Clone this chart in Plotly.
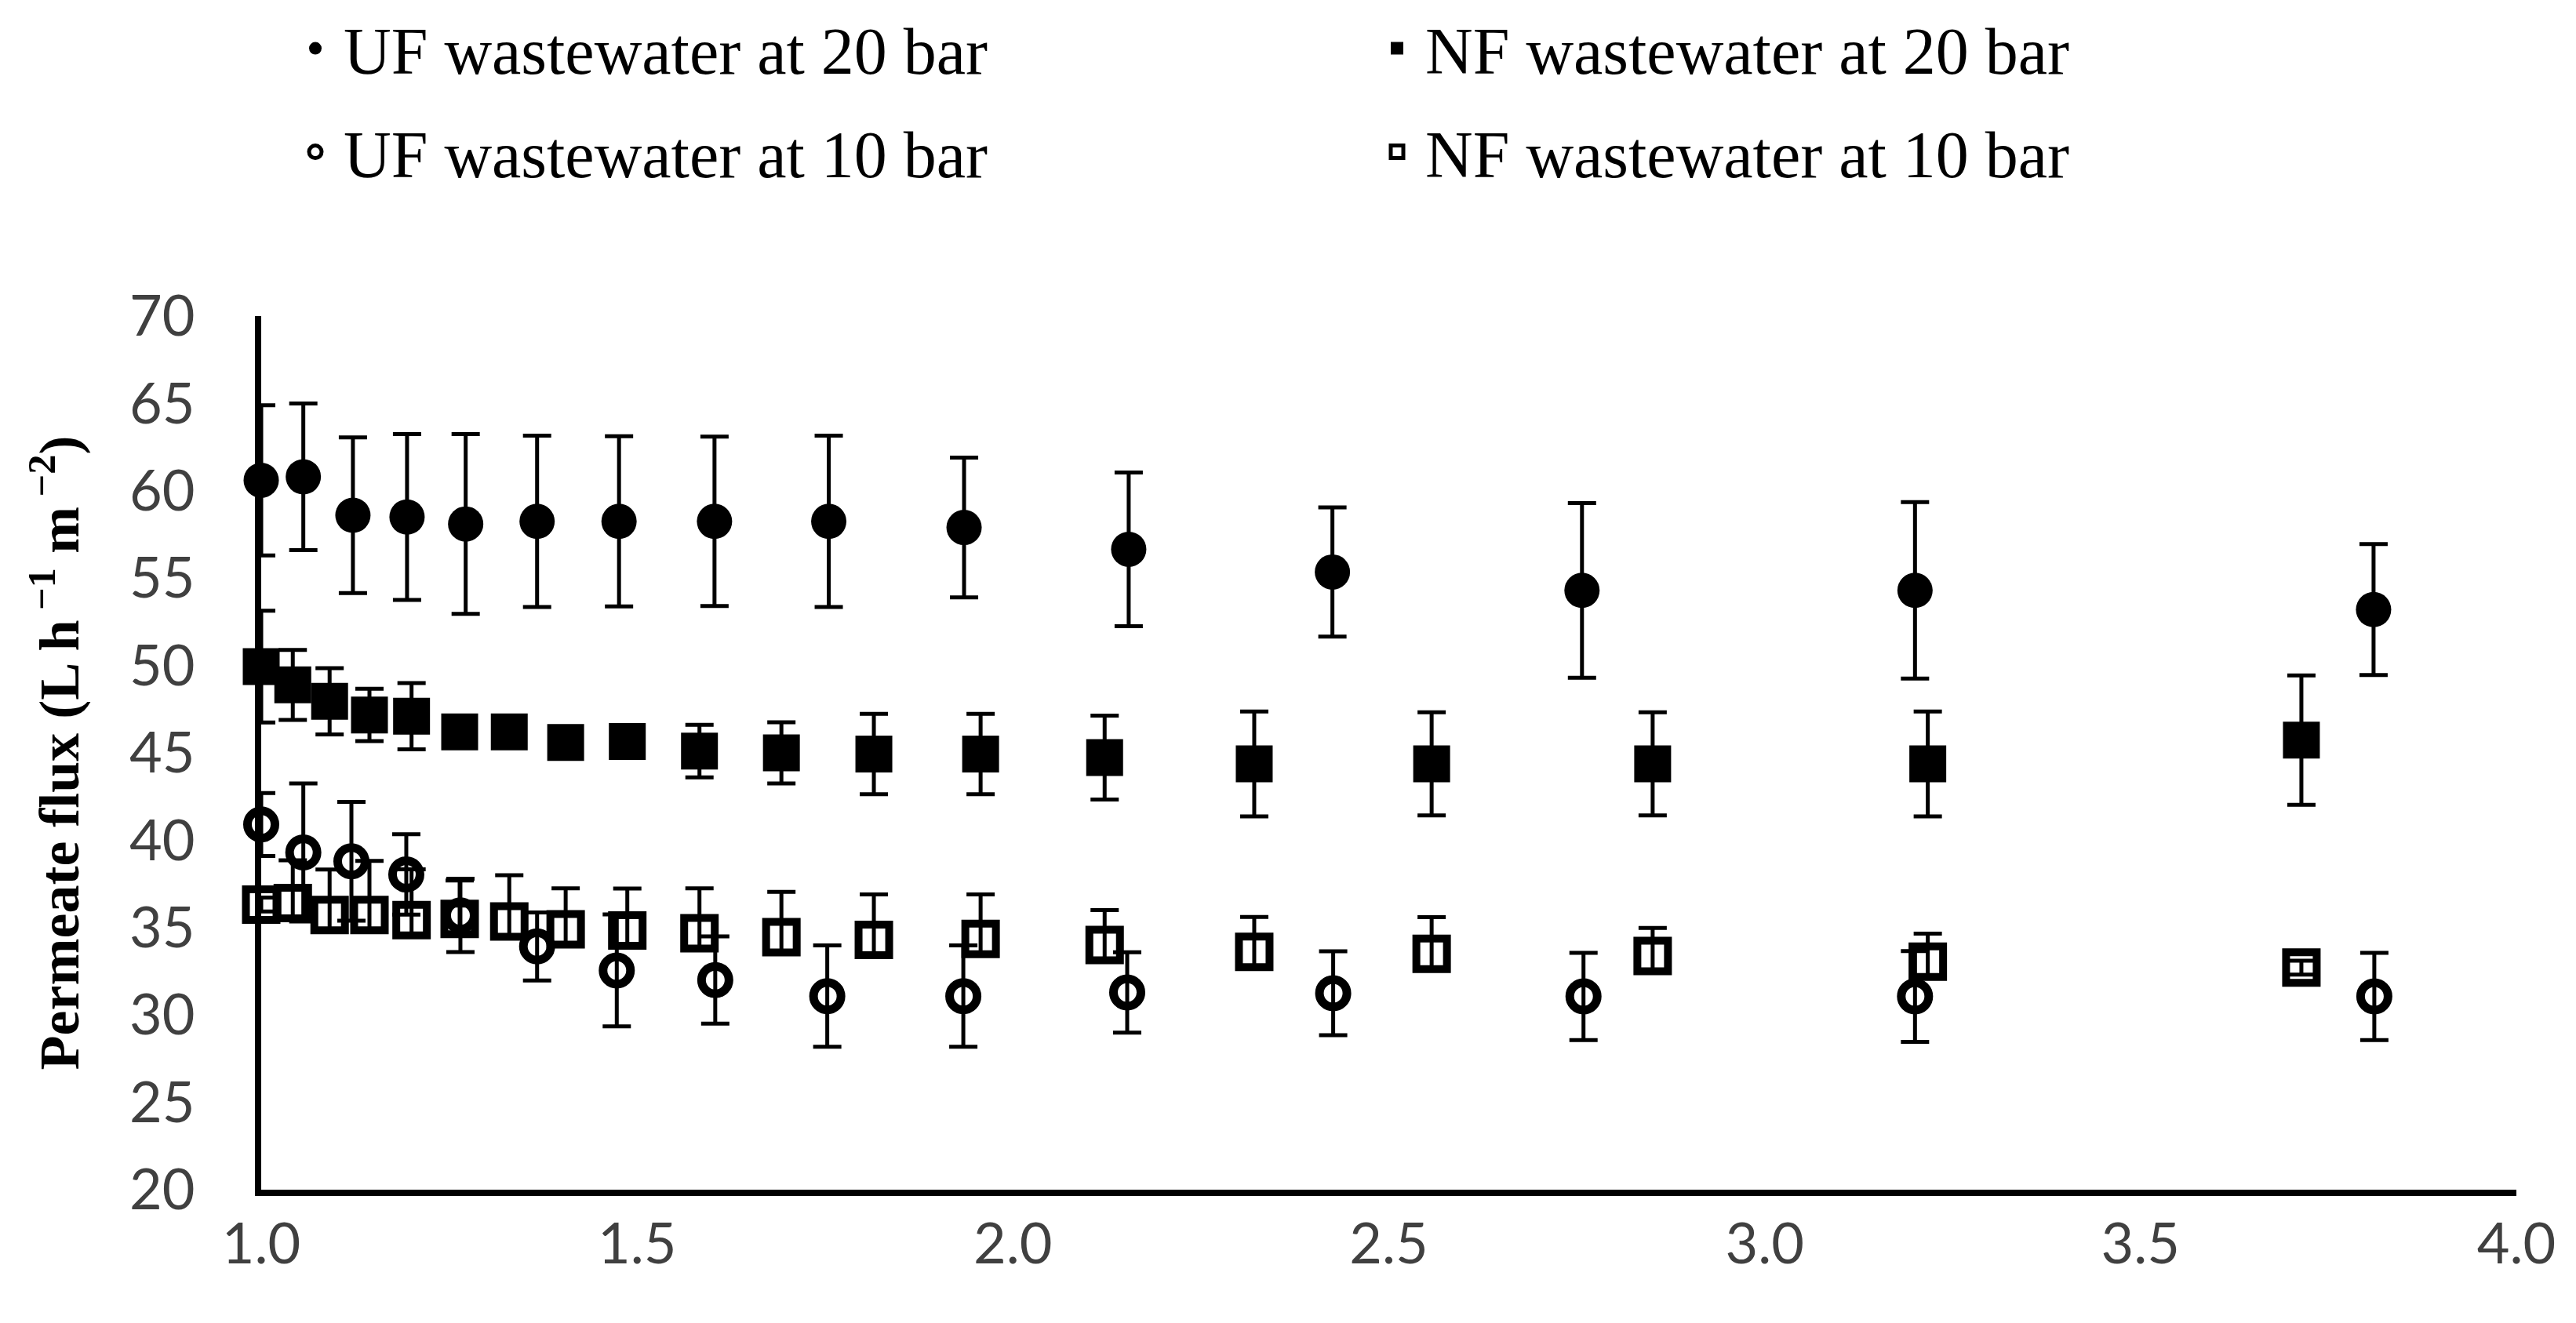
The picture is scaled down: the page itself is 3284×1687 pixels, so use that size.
import plotly.graph_objects as go

# ---------------- data ----------------
# UF wastewater at 20 bar
x_uf20 = [1.0, 1.056, 1.122, 1.194, 1.272, 1.367, 1.476, 1.603, 1.755, 1.935, 2.154, 2.425, 2.757, 3.200, 3.810]
y_uf20 = [60.6, 60.8, 58.6, 58.5, 58.1, 58.25, 58.25, 58.25, 58.25, 57.9, 56.65, 55.35, 54.3, 54.3, 53.2]
e_uf20 = [4.3, 4.2, 4.45, 4.75, 5.15, 4.9, 4.87, 4.85, 4.9, 4.0, 4.4, 3.7, 5.0, 5.05, 3.75]

# NF wastewater at 20 bar
x_nf20 = [1.0, 1.042, 1.091, 1.144, 1.200, 1.264, 1.330, 1.405, 1.487, 1.583, 1.692, 1.815, 1.957, 2.122, 2.321, 2.557, 2.851, 3.217, 3.714]
y_nf20 = [49.94, 48.89, 47.95, 47.17, 47.1, 46.2, 46.2, 45.6, 45.65, 45.1, 45.0, 44.93, 44.93, 44.73, 44.37, 44.37, 44.37, 44.37, 45.73]
e_nf20 = [3.2, 2.0, 1.9, 1.5, 1.9, 0.5, 0.5, 0.5, 0.5, 1.5, 1.75, 2.3, 2.3, 2.4, 3.0, 2.95, 2.95, 3.0, 3.7]

# UF wastewater at 10 bar
x_uf10 = [1.0, 1.056, 1.120, 1.193, 1.265, 1.367, 1.473, 1.604, 1.753, 1.934, 2.152, 2.426, 2.759, 3.200, 3.811]
y_uf10 = [40.9, 39.3, 38.8, 38.04, 35.7, 33.92, 32.55, 32.0, 31.08, 31.08, 31.29, 31.24, 31.06, 31.06, 31.06]
e_uf10 = [1.8, 3.95, 3.4, 2.3, 2.1, 1.95, 3.2, 2.5, 2.9, 2.9, 2.3, 2.4, 2.5, 2.6, 2.5]

# NF wastewater at 10 bar (upper error only is visible; lower part stays inside the marker)
x_nf10 = [1.0, 1.042, 1.091, 1.144, 1.200, 1.264, 1.330, 1.405, 1.487, 1.583, 1.692, 1.815, 1.957, 2.122, 2.321, 2.557, 2.851, 3.217, 3.714]
y_nf10 = [36.32, 36.4, 35.72, 35.72, 35.43, 35.5, 35.35, 34.9, 34.83, 34.68, 34.45, 34.3, 34.35, 34.0, 33.61, 33.5, 33.38, 33.05, 32.71]
e_nf10_plus = [0.4, 2.45, 2.6, 3.1, 2.9, 2.2, 2.65, 2.35, 2.4, 2.57, 2.6, 2.6, 2.55, 2.0, 2.0, 2.1, 1.6, 1.6, 0.4]
e_nf10_minus = [0.4, 0.9, 0.9, 0.9, 0.9, 0.9, 0.9, 0.9, 0.9, 0.9, 0.9, 0.9, 0.9, 0.9, 0.9, 0.9, 0.9, 0.9, 0.4]

series_names = ["UF wastewater at 20 bar", "NF wastewater at 20 bar",
                "UF wastewater at 10 bar", "NF wastewater at 10 bar"]

y_ticks = [20, 25, 30, 35, 40, 45, 50, 55, 60, 65, 70]
x_ticks = [1.0, 1.5, 2.0, 2.5, 3.0, 3.5, 4.0]

# ---------------- figure ----------------
W, H = 3284, 1687
ML, MR, MT, MB = 325, 84, 395, 178
PW, PH = W - ML - MR, H - MT - MB

ERR_W = 18
ERR_T = 5

fig = go.Figure()

fig.add_trace(go.Scatter(
    x=x_uf20, y=y_uf20, mode="markers", name=series_names[0], legend="legend2",
    marker=dict(symbol="circle", size=45, color="black", line=dict(width=0)),
    error_y=dict(type="data", array=e_uf20, visible=True, color="black",
                 thickness=ERR_T, width=ERR_W),
    cliponaxis=False))

fig.add_trace(go.Scatter(
    x=x_nf20, y=y_nf20, mode="markers", name=series_names[1], legend="legend3",
    marker=dict(symbol="square", size=47, color="black", line=dict(width=0)),
    error_y=dict(type="data", array=e_nf20, visible=True, color="black",
                 thickness=ERR_T, width=ERR_W),
    cliponaxis=False))

fig.add_trace(go.Scatter(
    x=x_uf10, y=y_uf10, mode="markers", name=series_names[2], legend="legend4",
    marker=dict(symbol="circle-open", size=35, color="black", line=dict(width=11, color="black")),
    error_y=dict(type="data", array=e_uf10, visible=True, color="black",
                 thickness=ERR_T, width=ERR_W),
    cliponaxis=False))

fig.add_trace(go.Scatter(
    x=x_nf10, y=y_nf10, mode="markers", name=series_names[3], legend="legend5",
    marker=dict(symbol="square-open", size=39, color="black", line=dict(width=10, color="black")),
    error_y=dict(type="data", symmetric=False, array=e_nf10_plus, arrayminus=e_nf10_minus,
                 visible=True, color="black", thickness=ERR_T, width=ERR_W),
    cliponaxis=False))

tick_font = dict(family="Lato", size=72, color="#404040")

def px_x(X):
    return (X - ML) / PW

def px_y(Y):
    return (H - MB - Y) / PH

leg_common = dict(orientation="h", font=dict(family="Liberation Serif", size=84, color="black"),
                  itemwidth=62, bgcolor="rgba(0,0,0,0)", borderwidth=0,
                  xanchor="left", yanchor="middle")

fig.update_layout(
    width=W, height=H,
    margin=dict(l=ML, r=MR, t=MT, b=MB, pad=0, autoexpand=False),
    paper_bgcolor="white", plot_bgcolor="white",
    showlegend=True,
    legend2=dict(x=px_x(358), y=px_y(54), **leg_common),
    legend3=dict(x=px_x(1737), y=px_y(54), **leg_common),
    legend4=dict(x=px_x(358), y=px_y(186), **leg_common),
    legend5=dict(x=px_x(1737), y=px_y(186), **leg_common),
    xaxis=dict(range=[1.0, 4.0], tickmode="array", tickvals=x_ticks,
               ticktext=[f"{v:.1f}" for v in x_ticks],
               showgrid=False, zeroline=False, showline=True, linecolor="black",
               linewidth=8, ticks="", ticklabelstandoff=0, tickfont=tick_font),
    yaxis=dict(range=[20, 70], tickmode="array", tickvals=y_ticks,
               ticktext=[str(v) for v in y_ticks],
               showgrid=False, zeroline=False, showline=True, linecolor="black",
               linewidth=8, ticks="", ticklabelstandoff=62, tickfont=tick_font,
               title=dict(text="Permeate flux (L h<sup> \u22121</sup> m<sup> \u22122</sup>)",
                          font=dict(family="Liberation Serif", size=72, color="black",
                                    weight="bold"),
                          standoff=44)),
)

fig.write_html("out.html")
